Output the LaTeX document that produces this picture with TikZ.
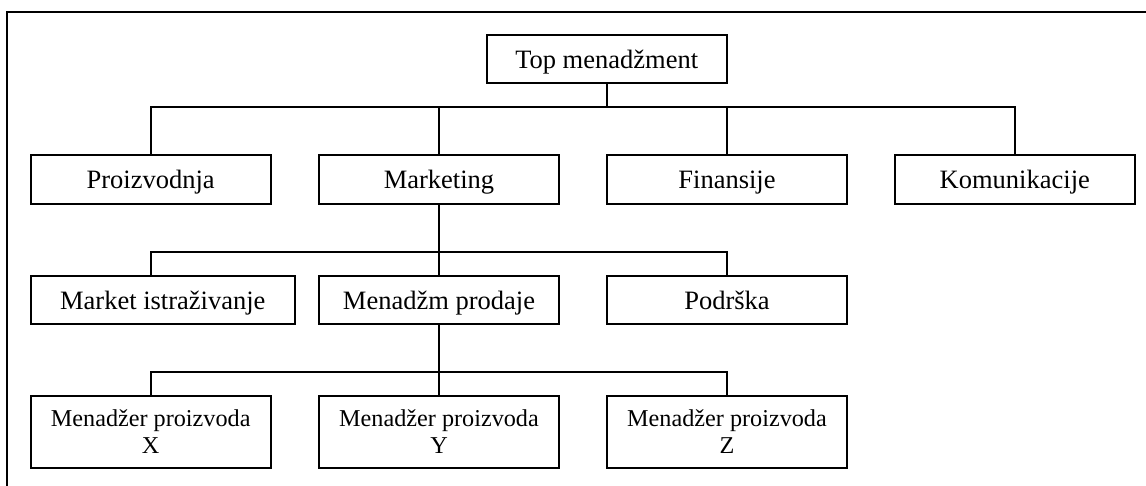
\documentclass[tikz,border=0pt]{standalone}
\usepackage{fontspec}
\setmainfont{Liberation Serif}
\begin{document}
\begin{tikzpicture}[x=1pt,y=-1pt,
  box/.style={draw=black,line width=1.9pt,inner sep=0pt,outer sep=0pt,align=center},
  big/.style={font=\fontsize{26.5}{30}\selectfont,text depth=0pt},
  small/.style={font=\fontsize{24.2}{27}\selectfont},
  conn/.style={draw=black,line width=1.9pt}]
\useasboundingbox (0,0) rectangle (1146,485);
\begin{scope}
\clip (0,0) rectangle (1146,485);
\draw[line width=2pt] (7,500) -- (7,11.5) -- (1160,11.5);
\end{scope}
% boxes
\node[box,big,minimum width=240pt,minimum height=48.3pt] (top) at (606.7,59.2) {Top menadžment};
\node[box,big,minimum width=240pt,minimum height=48.5pt] (pro) at (150.7,179.3) {Proizvodnja};
\node[box,big,minimum width=240pt,minimum height=48.5pt] (mar) at (439,179.3) {Marketing};
\node[box,big,minimum width=240.6pt,minimum height=48.5pt] (fin) at (727,179.3) {Finansije};
\node[box,big,minimum width=240.3pt,minimum height=48.5pt] (kom) at (1014.8,179.3) {Komunikacije};
\node[box,big,minimum width=264.3pt,minimum height=48.3pt] (mis) at (162.8,299.9) {Market istraživanje};
\node[box,big,minimum width=240pt,minimum height=48.3pt] (mpr) at (439,299.9) {Menadžm prodaje};
\node[box,big,minimum width=240.6pt,minimum height=48.3pt] (pod) at (727,299.9) {Podrška};
\node[box,small,minimum width=240pt,minimum height=72pt] (mx) at (150.7,431.7) {Menadžer proizvoda\\X};
\node[box,small,minimum width=240pt,minimum height=72pt] (my) at (439,431.7) {Menadžer proizvoda\\Y};
\node[box,small,minimum width=240.6pt,minimum height=72pt] (mz) at (727,431.7) {Menadžer proizvoda\\Z};
% connectors
\coordinate (b1) at (606.7,107.3);
\coordinate (b2) at (439,251.7);
\coordinate (b3) at (439,371.7);
\draw[conn] (top.south) -- (b1);
\draw[conn] (pro.north -| 151,0) |- (b1) -| (kom.north);
\draw[conn] (b1 -| mar.north) -- (mar.north);
\draw[conn] (b1 -| fin.north) -- (fin.north);
\draw[conn] (mar.south) -- (mpr.north);
\draw[conn] (mis.north -| 151,0) |- (b2) -| (pod.north);
\draw[conn] (mpr.south) -- (my.north);
\draw[conn] (mx.north) |- (b3) -| (mz.north);
\end{tikzpicture}
\end{document}
